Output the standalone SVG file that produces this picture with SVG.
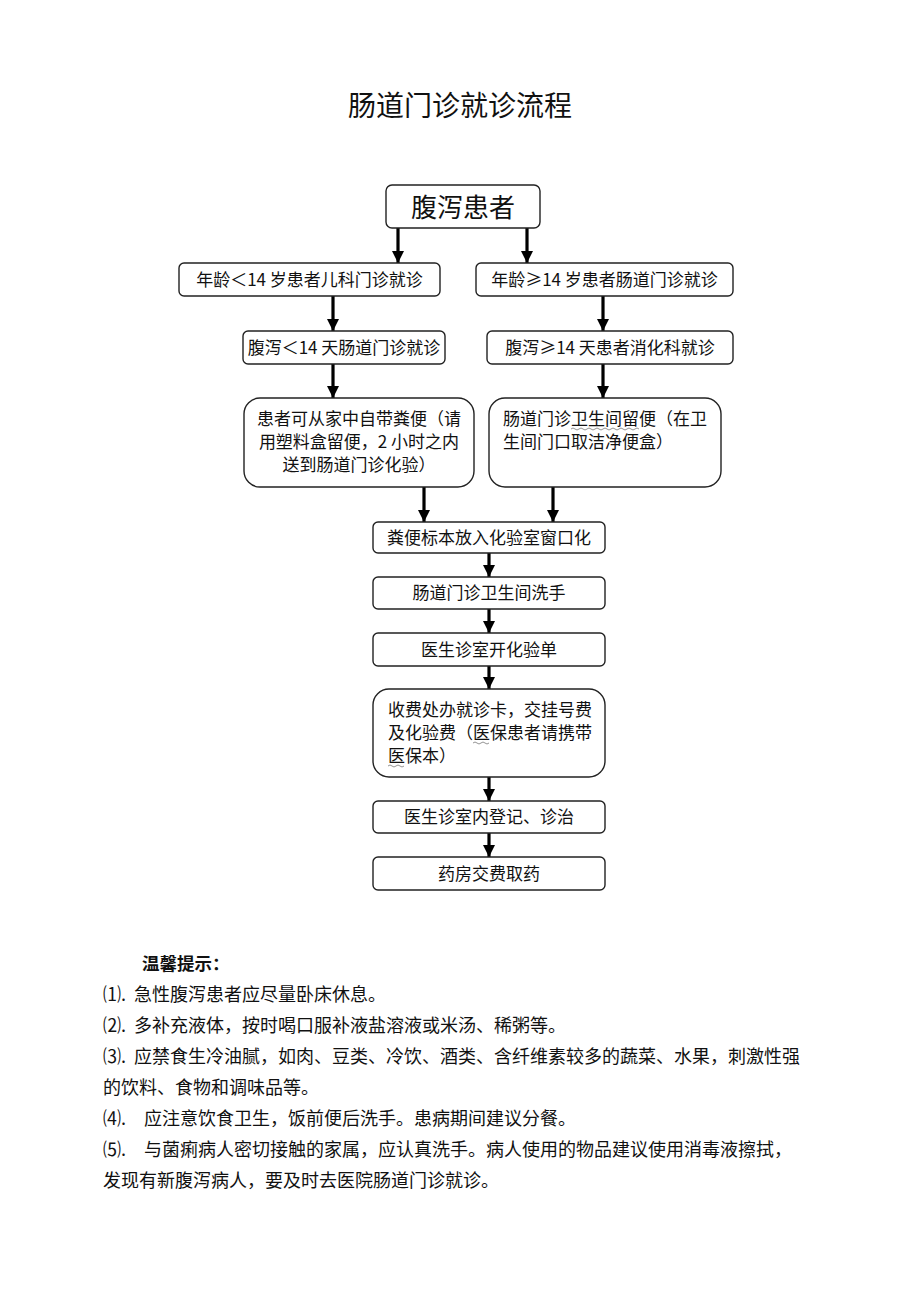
<svg xmlns="http://www.w3.org/2000/svg" width="920" height="1302" viewBox="0 0 920 1302">
<style>
text{font-family:"Noto Sans CJK SC","Noto Sans",sans-serif;fill:#111}
.box{fill:#fff;stroke:#222;stroke-width:1.4}
.t{font-size:17px}
.c{text-anchor:middle}
.tip{font-size:18px}
.arr{stroke:#000;stroke-width:3.2;fill:none;marker-end:url(#ah)}
.wavy{stroke:#777;stroke-width:0.8;fill:none}
</style>
<defs>
<marker id="ah" markerUnits="userSpaceOnUse" markerWidth="12" markerHeight="12" viewBox="0 0 12 12" refX="12" refY="6" orient="auto">
<path d="M0,0 L12,6 L0,12 Z" fill="#000"/>
</marker>
</defs>
<text x="460" y="116" class="c" style="font-size:28px">肠道门诊就诊流程</text>

<g id="connectors">
<line class="arr" x1="398" y1="228" x2="398" y2="263"/>
<line class="arr" x1="527" y1="228" x2="527" y2="263"/>
<line class="arr" x1="333" y1="296" x2="333" y2="331"/>
<line class="arr" x1="603" y1="296" x2="603" y2="331"/>
<line class="arr" x1="333" y1="364" x2="333" y2="398"/>
<line class="arr" x1="603" y1="364" x2="603" y2="398"/>
<line class="arr" x1="424" y1="487" x2="424" y2="522"/>
<line class="arr" x1="553" y1="487" x2="553" y2="522"/>
<line class="arr" x1="489" y1="553" x2="489" y2="577"/>
<line class="arr" x1="489" y1="609" x2="489" y2="633"/>
<line class="arr" x1="489" y1="666" x2="489" y2="689"/>
<line class="arr" x1="489" y1="777" x2="489" y2="801"/>
<line class="arr" x1="489" y1="833" x2="489" y2="857"/>
</g>

<g id="n1"><rect class="box" x="386" y="185" width="154" height="43" rx="6"/><text x="463" y="217" class="c" style="font-size:26px">腹泻患者</text></g>
<g id="n2"><rect class="box" x="179" y="263" width="261" height="33" rx="5"/><text x="309.5" y="286" class="t c">年龄＜14 岁患者儿科门诊就诊</text></g>
<g id="n3"><rect class="box" x="476" y="263" width="257" height="33" rx="5"/><text x="604.5" y="286" class="t c">年龄≥14 岁患者肠道门诊就诊</text></g>
<g id="n4"><rect class="box" x="243" y="331" width="202" height="33" rx="5"/><text x="344" y="354" class="t c">腹泻＜14 天肠道门诊就诊</text></g>
<g id="n5"><rect class="box" x="487" y="331" width="246" height="33" rx="5"/><text x="610" y="354" class="t c">腹泻≥14 天患者消化科就诊</text></g>
<g id="n6"><rect class="box" x="244" y="398" width="230" height="89" rx="16"/>
<text x="359" y="425" class="t c">患者可从家中自带粪便（请</text>
<text x="359" y="448" class="t c">用塑料盒留便，2 小时之内</text>
<text x="359" y="471" class="t c">送到肠道门诊化验）</text></g>
<g id="n7"><rect class="box" x="489" y="398" width="232" height="89" rx="16"/>
<text x="503" y="425" class="t">肠道门诊卫生间留便（在卫</text>
<text x="503" y="448" class="t">生间门口取洁净便盒）</text>
<path class="wavy" d="M571,429 q2,-2 4,0 t4,0 t4,0 t4,0 t4,0 t4,0 t4,0 t4,0 t4,0 t4,0 t4,0 t4,0 t4,0 t4,0 t4,0 t4,0 t4,0"/></g>
<g id="n8"><rect class="box" x="373" y="522" width="232" height="31" rx="5"/><text x="489" y="544" class="t c">粪便标本放入化验室窗口化</text></g>
<g id="n9"><rect class="box" x="373" y="577" width="232" height="32" rx="5"/><text x="489" y="599" class="t c">肠道门诊卫生间洗手</text></g>
<g id="n10"><rect class="box" x="373" y="633" width="232" height="33" rx="5"/><text x="489" y="656" class="t c">医生诊室开化验单</text></g>
<g id="n11"><rect class="box" x="373" y="689" width="232" height="88" rx="16"/>
<text x="388" y="716" class="t">收费处办就诊卡，交挂号费</text>
<text x="388" y="739" class="t">及化验费（医保患者请携带</text>
<text x="388" y="762" class="t">医保本）</text>
<path class="wavy" d="M473,743 q2,-2 4,0 t4,0 t4,0 t4,0"/>
<path class="wavy" d="M388,766 q2,-2 4,0 t4,0 t4,0 t4,0"/></g>
<g id="n12"><rect class="box" x="373" y="801" width="232" height="32" rx="5"/><text x="489" y="823" class="t c">医生诊室内登记、诊治</text></g>
<g id="n13"><rect class="box" x="373" y="857" width="232" height="33" rx="5"/><text x="489" y="880" class="t c">药房交费取药</text></g>

<text x="142" y="970" class="tip" style="font-weight:bold;font-size:17.5px">温馨提示：</text>
<text y="1001" class="tip"><tspan x="103">⑴.</tspan><tspan x="134">急性腹泻患者应尽量卧床休息。</tspan></text>
<text y="1032" class="tip"><tspan x="103">⑵.</tspan><tspan x="134">多补充液体，按时喝口服补液盐溶液或米汤、稀粥等。</tspan></text>
<text y="1063" class="tip"><tspan x="103">⑶.</tspan><tspan x="134">应禁食生冷油腻，如肉、豆类、冷饮、酒类、含纤维素较多的蔬菜、水果，刺激性强</tspan></text>
<text x="103" y="1094" class="tip">的饮料、食物和调味品等。</text>
<text y="1125" class="tip"><tspan x="103">⑷.</tspan><tspan x="144">应注意饮食卫生，饭前便后洗手。患病期间建议分餐。</tspan></text>
<text y="1156" class="tip"><tspan x="103">⑸.</tspan><tspan x="144">与菌痢病人密切接触的家属，应认真洗手。病人使用的物品建议使用消毒液擦拭，</tspan></text>
<text x="103" y="1187" class="tip">发现有新腹泻病人，要及时去医院肠道门诊就诊。</text>
</svg>
